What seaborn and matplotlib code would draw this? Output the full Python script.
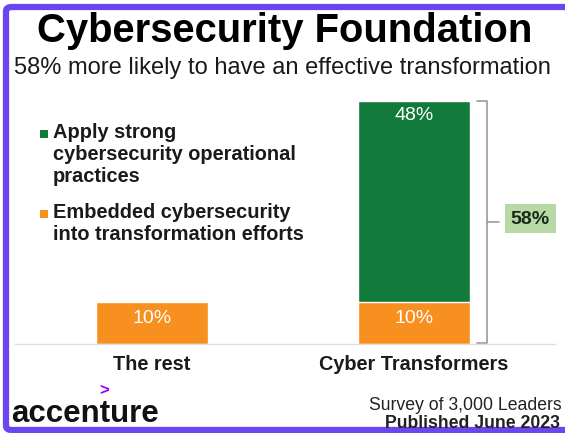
import matplotlib

matplotlib.use("Agg")
import matplotlib.pyplot as plt
import seaborn as sns
import pandas as pd
from matplotlib.patches import Rectangle, FancyBboxPatch
from matplotlib.lines import Line2D

# datos
categorias = ["The rest", "Cyber Transformers"]
embebido = [10, 10]
operacional = [0, 48]
total = [e + o for e, o in zip(embebido, operacional)]
leyenda = ["Apply strong\ncybersecurity operational\npractices",
           "Embedded cybersecurity\ninto transformation efforts"]
diferencia = "58%"

VERDE = "#127a3b"
NARANJA = "#f7901e"
MORADO = "#6a45f0"

sns.set_theme(style="white")
plt.rcParams["font.family"] = ["Liberation Sans", "DejaVu Sans"]

W, H = 565, 433
fig = plt.figure(figsize=(W / 100, H / 100), dpi=100)
fig.patch.set_facecolor("white")

# ejes: x=0 en 152px, x=1 en 414px, base en y=344px, 4.19 px por punto
izq, der = 15, 555
esc_x = 262
ax = fig.add_axes([izq / W, (H - 344) / H, (der - izq) / W, 60 * 4.19 / H])
df = pd.DataFrame({"cat": categorias, "total": total, "emb": embebido})
sns.barplot(data=df, x="cat", y="total", color=VERDE, width=0.43,
            saturation=1, ax=ax)
sns.barplot(data=df, x="cat", y="emb", color=NARANJA, width=0.43,
            saturation=1, ax=ax)
ax.set_xlim((izq - 152) / esc_x, (der - 152) / esc_x)
ax.set_ylim(0, 60)
ax.set_xlabel("")
ax.set_ylabel("")
ax.set_yticks([])
ax.tick_params(axis="x", length=0, pad=8)
ax.set_xticks(range(len(categorias)))
ax.set_xticklabels(categorias, fontsize=14.3, fontweight="bold", color="#1a1a1a")
for lado in ["top", "right", "left"]:
    ax.spines[lado].set_visible(False)
ax.spines["bottom"].set_color("#dedede")
ax.spines["bottom"].set_linewidth(1)

# etiquetas de valores
for i, (e, o) in enumerate(zip(embebido, operacional)):
    ax.annotate(f"{e}%", (i, e), xytext=(0, -6), textcoords="offset points",
                ha="center", va="top", color="white", fontsize=14)
    if o > 0:
        ax.annotate(f"{o}%", (i, e + o), xytext=(0, -4), textcoords="offset points",
                    ha="center", va="top", color="white", fontsize=14)

# llave con el total
xb = (487 - 152) / esc_x
xi = (477 - 152) / esc_x
xt = (499 - 152) / esc_x
ym = total[1] / 2
ax.add_line(Line2D([xi, xb, xb, xi], [total[1], total[1], 0.3, 0.3],
                   color="#9a9a9a", lw=1.2, clip_on=False))
ax.add_line(Line2D([xb, xt], [ym, ym], color="#9a9a9a", lw=1.2, clip_on=False))
fig.add_artist(Rectangle((505 / W, (H - 233) / H), 51 / W, 29 / H,
                         facecolor="#b7d9a6", edgecolor="none"))
fig.text(530 / W, (H - 219) / H, diferencia, ha="center", va="center",
         fontsize=14, fontweight="bold", color="#1a2a1a")

# leyenda manual
for (y, color, texto) in [(134, VERDE, leyenda[0]), (214, NARANJA, leyenda[1])]:
    fig.add_artist(Rectangle((40 / W, (H - y - 4) / H), 8 / W, 8 / H,
                             facecolor=color, edgecolor="none"))
    fig.text(53 / W, (H - y + 11) / H, texto, ha="left", va="top",
             fontsize=14.4, fontweight="bold", color="#1a1a1a", linespacing=1.2)

# titulos
fig.text(285 / W, (H - 31) / H, "Cybersecurity Foundation", ha="center",
         va="center", fontsize=28.8, fontweight="bold", color="black")
fig.text(282 / W, (H - 68) / H,
         "58% more likely to have an effective transformation",
         ha="center", va="center", fontsize=17, color="#1a1a1a")

# pie
fig.text(11 / W, (H - 414) / H, "accenture", ha="left", va="center",
         fontsize=22.5, fontweight="bold", color="#111111")
fig.text(104 / W, (H - 391) / H, ">", ha="center", va="center",
         fontsize=12, fontweight="bold", color="#a100ff")
fig.text(562 / W, (H - 405) / H, "Survey of 3,000 Leaders", ha="right",
         va="center", fontsize=12.7, color="#222222")
fig.text(560 / W, (H - 423) / H, "Published June 2023", ha="right",
         va="center", fontsize=12.7, fontweight="bold", color="#222222")

# marco morado
fig.add_artist(FancyBboxPatch((6 / W, 3 / H), (W + 20) / W, (H - 10) / H,
                              boxstyle="round,pad=0,rounding_size=0.01",
                              facecolor="none", edgecolor=MORADO, lw=4.5,
                              transform=fig.transFigure, clip_on=False))

fig.savefig("out.png", dpi=100)
